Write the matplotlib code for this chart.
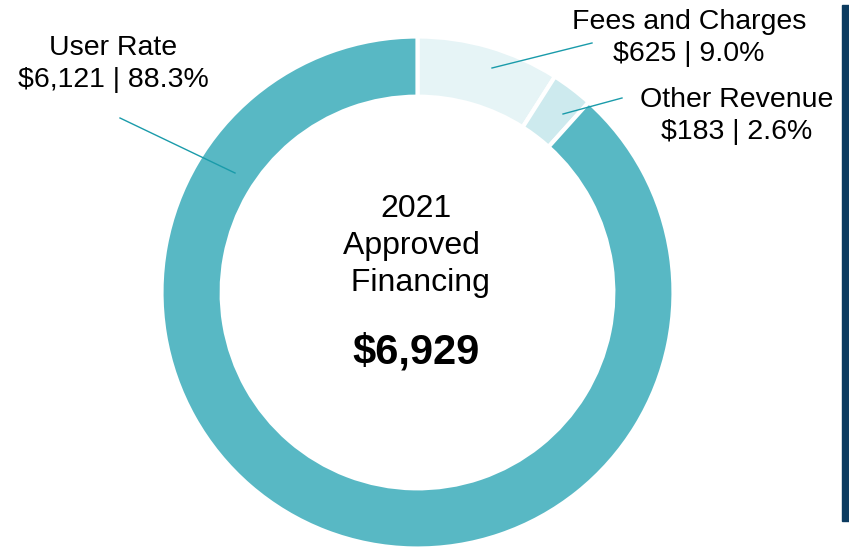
import matplotlib
matplotlib.use("Agg")
import matplotlib.pyplot as plt
import numpy as np

categories = ["Fees and Charges", "Other Revenue", "User Rate"]
values = [625, 183, 6121]
percents = ["9.0%", "2.6%", "88.3%"]
colors = ["#E6F4F6", "#CDEAEE", "#58B8C4"]
total_label = "$6,929"
center_title = "2021\nApproved \n Financing"

plt.rcParams['font.family'] = ['Liberation Sans', 'DejaVu Sans']

W, H = 849, 550
fig = plt.figure(figsize=(W / 100, H / 100), dpi=100)
cx, cy, R = 417.5, 292.5, 256  # pixel coords (y from top)
ax = fig.add_axes([(cx - R) / W, (H - cy - R) / H, 2 * R / W, 2 * R / H])

ax.pie(values, colors=colors, startangle=90, counterclock=False, radius=1.0,
       wedgeprops=dict(width=0.235, edgecolor='white', linewidth=3))
ax.set_xlim(-1, 1)
ax.set_ylim(-1, 1)
ax.set_aspect('equal')
ax.axis('off')

def px(x, y):
    return ((x - cx) / R, (cy - y) / R)

labels = [f"{c}\n${v:,} | {p}" for c, v, p in zip(categories, values, percents)]
label_pos = [px(689, 38), px(737, 116), px(113, 64)]
line_start = [px(492, 68), px(563, 114), px(235, 173)]
line_end = [px(592, 43), px(622, 98), px(120, 118)]

for lab, lp, ls, le in zip(labels, label_pos, line_start, line_end):
    ax.text(lp[0], lp[1], lab, ha='center', va='center', fontsize=20.5,
            linespacing=1.32, color='black', clip_on=False)
    ax.plot([ls[0], le[0]], [ls[1], le[1]], color='#1A9BAA', lw=1.0,
            clip_on=False)

tp = px(416, 246)
ax.text(tp[0], tp[1], center_title, ha='center', va='center', fontsize=23,
        linespacing=1.29, color='black')
vp = px(416, 352)
ax.text(vp[0], vp[1], total_label, ha='center', va='center', fontsize=30,
        fontweight='bold', color='black')

# right-side vertical bar
fig.patches.append(plt.Rectangle((842 / W, (H - 521) / H), 7 / W, 516 / H,
                                 transform=fig.transFigure, color='#0B3B60',
                                 zorder=0))

fig.savefig("out.png", dpi=100)
